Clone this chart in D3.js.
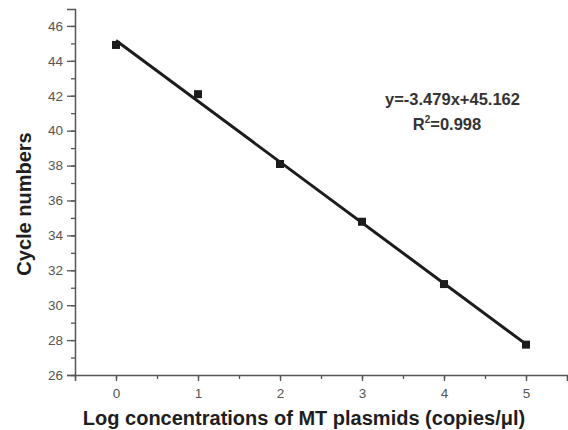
<!DOCTYPE html>
<html>
<head>
<meta charset="utf-8">
<script src="https://cdn.jsdelivr.net/npm/d3@7"></script>
<style>
  html, body { margin: 0; padding: 0; background: #fff; }
  svg { display: block; }
  text { font-family: Arial, "Liberation Sans", sans-serif; }
</style>
</head>
<body>
<svg id="chart" width="568" height="430"></svg>
<script>
// ---- data ----
const logConc = [0, 1, 2, 3, 4, 5];
const cycleNumbers = [44.91, 42.09, 38.09, 34.78, 31.21, 27.74];
const fitSlope = -3.479;
const fitIntercept = 45.162;
const xTicks = [0, 1, 2, 3, 4, 5];
const yTicks = [26, 28, 30, 32, 34, 36, 38, 40, 42, 44, 46];
const equationText = "y=-3.479x+45.162";
const r2Value = "=0.998";
const xLabel = "Log concentrations of MT plasmids (copies/\u03bcl)";
const yLabel = "Cycle numbers";

// ---- layout ----
const svg = d3.select("#chart");
const mLeft = 75, mRight = 567, mTop = 9, mBottom = 375;

const x = d3.scaleLinear().domain([-0.5, 5.5]).range([mLeft, mRight]);
const y = d3.scaleLinear().domain([26, 46.97]).range([mBottom, mTop]);

const axisColor = "#555";
const tickTextColor = "#555";

// x axis
const gx = svg.append("g").attr("transform", `translate(0,${mBottom})`);
gx.call(d3.axisBottom(x).tickValues(d3.range(-0.5, 5.51, 0.5)).tickSize(4).tickFormat(""));
gx.call(g => g.selectAll(".tick line").attr("stroke", axisColor).attr("stroke-width", 1.3));
const gx2 = svg.append("g").attr("transform", `translate(0,${mBottom})`);
gx2.call(d3.axisBottom(x).tickValues(xTicks).tickSize(6).tickPadding(7).tickFormat(d3.format("d")));
gx2.select(".domain").attr("stroke", axisColor).attr("stroke-width", 1.5);
gx2.selectAll(".tick line").attr("stroke", axisColor).attr("stroke-width", 1.3);
gx2.selectAll(".tick text").attr("fill", tickTextColor).attr("font-size", 13.5);

// y axis
const gy = svg.append("g").attr("transform", `translate(${mLeft},0)`);
gy.call(d3.axisLeft(y).tickValues(d3.range(26, 47, 1)).tickSize(4).tickFormat(""));
gy.call(g => g.selectAll(".tick line").attr("stroke", axisColor).attr("stroke-width", 1.3));
const gy2 = svg.append("g").attr("transform", `translate(${mLeft},0)`);
gy2.call(d3.axisLeft(y).tickValues(yTicks).tickSize(8).tickPadding(4).tickFormat(d3.format("d")));
gy2.select(".domain").attr("stroke", axisColor).attr("stroke-width", 1.5);
gy2.selectAll(".tick line").attr("stroke", axisColor).attr("stroke-width", 1.3);
gy2.selectAll(".tick text").attr("fill", tickTextColor).attr("font-size", 13.5);

// fit line
svg.append("line")
  .attr("x1", x(0)).attr("y1", y(fitIntercept))
  .attr("x2", x(5)).attr("y2", y(fitIntercept + fitSlope * 5))
  .attr("stroke", "#1c1c1c").attr("stroke-width", 3);

// markers
const ms = 8;
svg.append("g").selectAll("rect").data(logConc).join("rect")
  .attr("x", (d) => x(d) - ms / 2)
  .attr("y", (d, i) => y(cycleNumbers[i]) - ms / 2)
  .attr("width", ms).attr("height", ms)
  .attr("fill", "#1c1c1c");

// equation
svg.append("text").attr("x", 452.5).attr("y", 105).attr("text-anchor", "middle")
  .attr("font-size", 16.5).attr("font-weight", "bold").attr("fill", "#333")
  .text(equationText);
const r2 = svg.append("text").attr("x", 447).attr("y", 130).attr("text-anchor", "middle")
  .attr("font-size", 16.5).attr("font-weight", "bold").attr("fill", "#333");
r2.append("tspan").text("R");
r2.append("tspan").attr("dy", -7).attr("font-size", 10).text("2");
r2.append("tspan").attr("dy", 7).text(r2Value);

// axis labels
svg.append("text").attr("x", 304).attr("y", 425).attr("text-anchor", "middle")
  .attr("font-size", 20).attr("font-weight", "bold").attr("fill", "#1e1e1e")
  .text(xLabel);
svg.append("text").attr("transform", "translate(31,204) rotate(-90)")
  .attr("text-anchor", "middle")
  .attr("font-size", 20).attr("font-weight", "bold").attr("fill", "#1e1e1e")
  .text(yLabel);
</script>
</body>
</html>
